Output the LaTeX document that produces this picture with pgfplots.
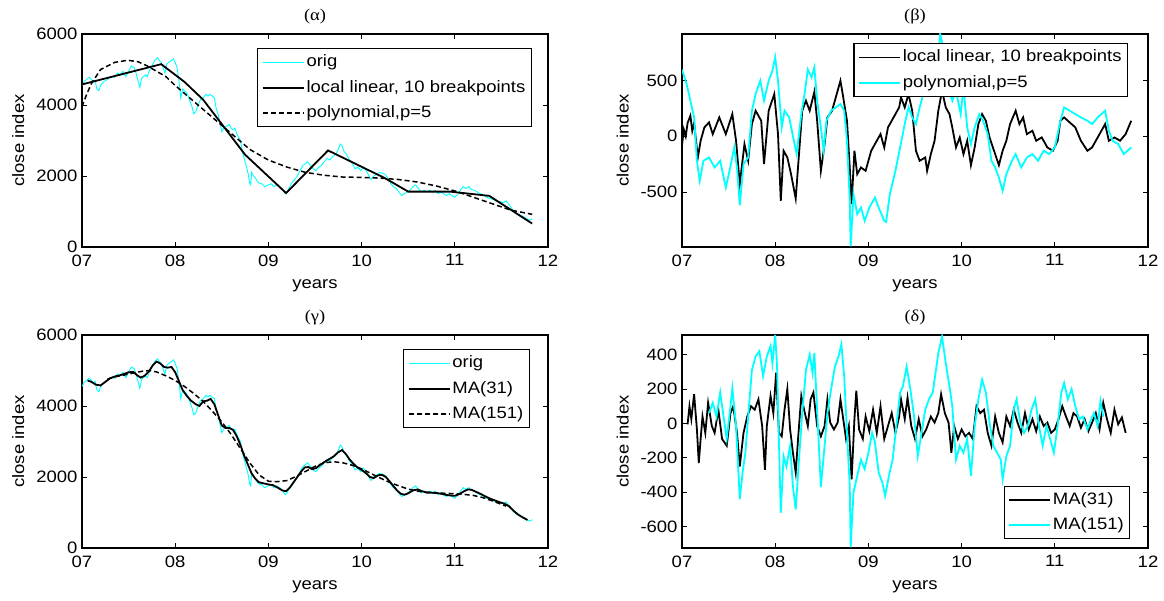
\documentclass[border=0pt]{standalone}
\usepackage{pgfplots}
\pgfplotsset{compat=1.18}
\usepackage{pgfplotstable}
\usepackage{fontspec}
\setmainfont[FakeStretch=1.12]{Liberation Sans}
\newfontfamily\titlefont[FakeStretch=1.12]{Liberation Serif}
\newcommand\f{\fontsize{16.5bp}{20bp}\selectfont}
\definecolor{mcyan}{RGB}{0,255,255}

\pgfplotstableread{
x y
7.00 4550
7.02 4650
7.04 4700
7.06 4750
7.08 4780
7.10 4720
7.12 4650
7.14 4700
7.16 4450
7.18 4400
7.20 4550
7.23 4650
7.26 4700
7.29 4750
7.32 4800
7.35 4780
7.38 4900
7.41 4850
7.44 4950
7.47 4800
7.50 4950
7.53 5100
7.56 5050
7.58 4900
7.60 4700
7.62 4500
7.64 4750
7.66 4800
7.68 4850
7.70 4800
7.72 4950
7.75 5100
7.78 5250
7.81 5330
7.83 5250
7.85 5200
7.87 5050
7.89 4900
7.91 5150
7.93 5200
7.96 5250
7.98 5300
8.00 5200
8.02 5050
8.04 4700
8.06 4200
8.08 4450
8.10 4400
8.12 4350
8.14 4250
8.16 4100
8.18 3950
8.20 3750
8.22 3800
8.24 3950
8.27 4150
8.30 4200
8.33 4300
8.35 4250
8.37 4300
8.40 4250
8.42 4200
8.44 3900
8.46 3750
8.48 3500
8.50 3250
8.52 3350
8.55 3400
8.58 3450
8.60 3350
8.62 3300
8.64 3350
8.66 3200
8.68 3100
8.70 3000
8.72 2700
8.74 2500
8.76 2300
8.78 2100
8.80 1800
8.81 1750
8.82 2100
8.84 2000
8.86 1950
8.88 1850
8.90 1800
8.93 1780
8.96 1700
9.00 1750
9.03 1780
9.06 1700
9.09 1750
9.12 1700
9.15 1620
9.18 1500
9.20 1550
9.22 1650
9.25 1800
9.28 1900
9.31 2000
9.34 2150
9.37 2300
9.40 2350
9.42 2400
9.45 2300
9.48 2200
9.51 2150
9.54 2250
9.57 2300
9.60 2400
9.63 2500
9.66 2450
9.69 2550
9.72 2600
9.75 2750
9.77 2900
9.79 2850
9.81 2700
9.84 2600
9.87 2450
9.90 2350
9.93 2200
9.96 2250
9.99 2150
10.02 2250
10.05 2150
10.08 2000
10.10 1900
10.13 2000
10.16 2050
10.19 2100
10.22 2080
10.25 2050
10.28 1950
10.31 1800
10.34 1700
10.37 1650
10.40 1550
10.43 1450
10.46 1500
10.49 1550
10.52 1600
10.55 1700
10.58 1750
10.61 1650
10.64 1550
10.67 1600
10.70 1550
10.73 1600
10.76 1550
10.79 1600
10.82 1500
10.85 1550
10.88 1500
10.91 1450
10.94 1500
10.97 1450
11.00 1400
11.03 1480
11.06 1600
11.09 1700
11.12 1650
11.15 1700
11.18 1620
11.21 1600
11.24 1550
11.27 1500
11.30 1480
11.33 1420
11.36 1380
11.40 1350
11.44 1300
11.48 1280
11.52 1250
11.55 1300
11.58 1200
11.62 1050
11.66 950
11.70 900
11.74 850
11.78 780
11.81 760
11.83 800
}\orig

\pgfplotstableread{
x y
7.00 4580
7.85 5150
8.10 4650
8.30 4150
8.75 2600
9.19 1520
9.64 2720
10.25 1940
10.50 1560
10.95 1560
11.37 1440
11.83 660
}\loclin

\pgfplotstableread{
x y
7.00 3950
7.05 4300
7.10 4600
7.20 5000
7.35 5200
7.49 5260
7.60 5220
7.70 5100
7.80 4950
7.90 4800
8.00 4550
8.20 4100
8.40 3650
8.60 3200
8.80 2750
9.00 2450
9.20 2250
9.40 2100
9.60 2020
9.80 1970
10.00 1960
10.20 1940
10.40 1900
10.60 1830
10.80 1720
11.00 1580
11.20 1400
11.40 1220
11.60 1040
11.83 920
}\poly

\pgfplotstableread{
x y
7.06 4720
7.10 4680
7.15 4600
7.20 4580
7.25 4680
7.30 4780
7.35 4830
7.40 4860
7.45 4900
7.50 4950
7.55 4960
7.60 4850
7.63 4800
7.67 4850
7.72 4980
7.76 5150
7.80 5250
7.84 5200
7.88 5100
7.92 5080
7.96 5100
8.00 4950
8.04 4700
8.08 4450
8.12 4300
8.17 4150
8.22 4050
8.26 4000
8.30 4130
8.34 4150
8.38 4200
8.42 4050
8.46 3750
8.50 3450
8.54 3380
8.58 3380
8.62 3330
8.66 3150
8.70 2900
8.74 2600
8.78 2350
8.82 2100
8.86 1950
8.90 1850
8.95 1820
9.00 1790
9.05 1770
9.10 1700
9.15 1620
9.19 1600
9.23 1700
9.27 1850
9.31 2000
9.35 2150
9.39 2270
9.43 2280
9.47 2220
9.51 2250
9.55 2330
9.60 2420
9.65 2500
9.70 2580
9.75 2700
9.79 2760
9.83 2650
9.87 2500
9.91 2380
9.95 2280
10.00 2200
10.05 2100
10.09 2000
10.13 1970
10.18 2050
10.22 2060
10.26 2000
10.30 1880
10.34 1750
10.38 1620
10.42 1530
10.46 1500
10.50 1540
10.55 1620
10.60 1650
10.65 1600
10.70 1560
10.75 1560
10.80 1550
10.85 1530
10.90 1500
10.95 1480
11.00 1470
11.05 1520
11.10 1600
11.14 1650
11.18 1640
11.23 1580
11.28 1520
11.33 1450
11.38 1390
11.43 1340
11.48 1290
11.53 1250
11.58 1180
11.63 1050
11.68 940
11.73 860
11.78 790
}\maa

\pgfplotstableread{
x y
7.27 4750
7.35 4820
7.45 4870
7.55 4930
7.65 4980
7.72 5000
7.80 4960
7.90 4850
8.00 4720
8.10 4550
8.20 4350
8.30 4130
8.40 3850
8.50 3550
8.60 3200
8.70 2800
8.80 2400
8.90 2060
9.00 1880
9.10 1870
9.20 1900
9.30 2020
9.40 2160
9.50 2300
9.60 2400
9.70 2430
9.80 2400
9.90 2330
10.00 2230
10.10 2100
10.20 1970
10.30 1850
10.40 1750
10.50 1660
10.60 1600
10.70 1570
10.80 1550
10.90 1540
11.00 1530
11.10 1510
11.20 1480
11.30 1420
11.40 1330
11.50 1230
11.55 1180
}\mab

\pgfplotstableread{
x y
7.00 -80
7.02 60
7.04 0
7.06 120
7.09 185
7.11 50
7.13 120
7.17 -190
7.20 -40
7.24 80
7.29 125
7.33 20
7.40 170
7.47 20
7.54 200
7.58 -40
7.62 -430
7.67 -70
7.71 -220
7.75 110
7.79 230
7.85 140
7.88 -250
7.93 230
7.99 380
8.03 20
8.06 -580
8.09 -130
8.13 -190
8.17 -340
8.22 -560
8.25 -220
8.29 230
8.33 320
8.37 230
8.42 400
8.45 140
8.49 -310
8.53 -70
8.56 170
8.61 230
8.66 380
8.70 500
8.73 350
8.77 140
8.80 -280
8.82 -610
8.85 -130
8.88 -340
8.92 -280
8.97 -310
9.03 -130
9.09 -40
9.13 20
9.17 -100
9.21 80
9.27 170
9.33 260
9.35 350
9.39 260
9.43 380
9.47 230
9.51 -130
9.55 -220
9.61 -190
9.63 -310
9.67 -160
9.71 -40
9.75 230
9.79 410
9.83 260
9.87 200
9.90 80
9.94 -100
9.98 -10
10.02 -160
10.06 -40
10.10 -260
10.14 -100
10.18 110
10.22 200
10.26 140
10.30 -10
10.36 -160
10.40 -260
10.44 -130
10.48 -40
10.52 110
10.58 230
10.62 110
10.66 170
10.70 20
10.76 50
10.80 -40
10.86 -10
10.92 -100
10.98 -130
11.03 -40
11.06 140
11.10 170
11.16 125
11.22 80
11.28 -40
11.35 -130
11.40 -100
11.46 -10
11.54 110
11.58 -40
11.64 -10
11.70 -40
11.76 20
11.82 140
}\resa

\pgfplotstableread{
x y
7.00 600
7.05 470
7.09 320
7.13 170
7.16 -220
7.19 -400
7.23 -220
7.29 -190
7.35 -280
7.41 -220
7.47 -460
7.51 -310
7.56 -100
7.59 -280
7.62 -620
7.66 -250
7.71 -190
7.75 230
7.79 380
7.84 500
7.88 320
7.93 500
7.97 590
8.00 710
8.03 500
8.07 80
8.10 230
8.15 170
8.20 -40
8.23 -160
8.28 200
8.32 410
8.35 600
8.39 530
8.42 620
8.45 320
8.49 80
8.52 -130
8.55 140
8.60 230
8.65 260
8.70 290
8.74 230
8.77 -40
8.80 -580
8.81 -990
8.84 -520
8.88 -700
8.92 -640
8.96 -760
9.01 -640
9.07 -550
9.11 -640
9.17 -760
9.19 -770
9.23 -520
9.29 -310
9.34 -100
9.39 110
9.43 260
9.47 170
9.51 110
9.55 260
9.59 380
9.65 470
9.70 380
9.74 620
9.77 920
9.81 770
9.85 470
9.90 320
9.94 410
9.99 200
10.02 440
10.06 80
10.10 -70
10.14 80
10.19 200
10.23 140
10.28 20
10.32 -220
10.36 -280
10.40 -370
10.44 -490
10.48 -340
10.54 -220
10.58 -160
10.64 -280
10.70 -190
10.76 -160
10.82 -220
10.88 -130
10.94 -160
11.00 -100
11.06 140
11.10 260
11.16 230
11.22 200
11.28 170
11.35 140
11.40 110
11.46 170
11.54 230
11.58 50
11.62 -40
11.68 -70
11.74 -160
11.78 -130
11.82 -100
}\resb

\pgfplotstableread{
x y
7.06 -5
7.08 100
7.10 25
7.13 170
7.16 -35
7.18 -230
7.20 -90
7.22 40
7.25 -55
7.28 120
7.32 -15
7.35 -55
7.39 80
7.43 -90
7.48 -130
7.52 60
7.55 100
7.59 -55
7.62 -250
7.66 -55
7.70 40
7.74 100
7.78 80
7.82 140
7.86 -15
7.89 -270
7.91 -15
7.95 160
7.98 60
8.01 295
8.04 -55
8.07 -75
8.10 80
8.13 200
8.16 -35
8.19 -170
8.22 -285
8.25 -55
8.28 160
8.31 80
8.35 -15
8.38 140
8.41 180
8.45 -15
8.49 -75
8.53 -15
8.56 140
8.59 5
8.63 -35
8.67 5
8.70 140
8.73 25
8.76 -90
8.79 -15
8.82 -325
8.85 25
8.87 190
8.90 -35
8.94 -90
8.97 40
9.01 -45
9.05 80
9.09 -55
9.13 100
9.17 -90
9.21 -15
9.25 60
9.29 -55
9.33 40
9.35 140
9.39 25
9.42 150
9.46 -15
9.50 -90
9.54 25
9.58 -75
9.62 -35
9.67 40
9.71 5
9.75 60
9.78 170
9.82 60
9.86 5
9.89 -170
9.92 -15
9.96 -90
10.00 -35
10.04 -75
10.08 -55
10.12 -90
10.16 100
10.20 60
10.24 80
10.28 -55
10.32 -130
10.36 40
10.40 -55
10.44 -110
10.48 40
10.52 -15
10.56 80
10.60 5
10.64 -55
10.68 60
10.72 -35
10.76 25
10.80 -45
10.84 40
10.88 -15
10.92 5
10.96 -55
11.00 -35
11.04 25
11.08 100
11.12 40
11.16 -15
11.20 60
11.24 40
11.28 -25
11.32 25
11.36 -45
11.40 5
11.44 60
11.48 -35
11.52 120
11.56 25
11.60 -55
11.64 80
11.68 -5
11.72 35
11.76 -55
}\resc

\pgfplotstableread{
x y
7.29 60
7.33 120
7.37 40
7.41 180
7.45 25
7.48 -90
7.52 100
7.54 205
7.58 -15
7.62 -440
7.65 -285
7.68 -170
7.71 40
7.75 310
7.79 390
7.83 420
7.87 275
7.91 390
7.95 450
7.97 350
8.00 515
8.02 330
8.04 -110
8.06 -520
8.09 -190
8.12 -250
8.16 -130
8.19 -365
8.22 -500
8.25 -250
8.29 60
8.33 310
8.37 400
8.40 295
8.42 410
8.45 80
8.49 -370
8.53 -130
8.56 60
8.60 200
8.64 330
8.68 390
8.71 460
8.74 275
8.77 -55
8.80 -365
8.81 -720
8.84 -400
8.88 -305
8.92 -210
8.96 -265
9.00 -170
9.04 -55
9.07 -110
9.11 -285
9.15 -345
9.18 -420
9.22 -305
9.26 -210
9.30 -15
9.34 180
9.37 215
9.41 330
9.45 200
9.49 40
9.53 -190
9.57 -55
9.61 80
9.65 140
9.69 180
9.73 330
9.75 410
9.79 505
9.83 350
9.87 215
9.90 100
9.94 -210
9.98 -130
10.02 -170
10.06 -90
10.10 -305
10.14 -15
10.18 140
10.22 255
10.26 180
10.30 5
10.34 -130
10.38 -170
10.42 -210
10.44 -325
10.48 -190
10.52 -130
10.56 80
10.59 140
10.63 5
10.67 -55
10.71 -15
10.75 80
10.79 140
10.83 -15
10.87 -130
10.91 -15
10.95 -90
10.99 -170
11.03 -15
11.07 180
11.10 235
11.14 140
11.18 200
11.22 100
11.26 25
11.30 40
11.35 -35
11.39 25
11.42 60
11.46 -15
11.49 130
11.52 40
}\resd

\pgfplotsset{
  lgd/.style={legend image code/.code={\draw[##1] (0bp,0bp) -- (41bp,0bp);}},
  myax/.style={
    scale only axis, width=466bp, height=213bp,
    xmin=7, xmax=12, xtick={7,8,9,10,11,12},
    xticklabels={07,08,09,10,11,12},
    tick align=inside, tick pos=both,
    major tick length=5bp,
    axis line style={line width=1.1bp},
    every tick/.style={black, line width=0.8bp},
    tick label style={font=\f},
    xticklabel style={yshift=-4bp},
    yticklabel style={xshift=-1bp},
    label style={font=\f},
    title style={font=\titlefont\f, at={(axis description cs:0.5,1.056)}, anchor=center},
    xlabel=years, ylabel=close index,
    xlabel style={at={(axis description cs:0.5,-0.181)}, anchor=center},
    legend cell align=left,
    legend style={font=\f, draw=black, line width=1.1bp, inner xsep=4bp, inner ysep=3.5bp,
      row sep=5.5bp, anchor=north west,
      nodes={inner sep=2bp, text height=12.5bp, text depth=3.5bp}},
  },
  thin cyan/.style={color=mcyan, line width=0.9bp, lgd},
  thick black/.style={color=black, line width=1.8bp, lgd},
  thick cyan/.style={color=mcyan, line width=1.8bp, lgd},
  dashed black/.style={color=black, line width=1.5bp, dash pattern=on 5bp off 3bp, lgd},
}

\begin{document}
\begin{tikzpicture}
\path[use as bounding box] (0,0) rectangle (1164bp,601bp);

% alpha
\begin{axis}[myax, at={(82bp,354bp)}, anchor=south west,
  ymin=0, ymax=6000, ytick={0,2000,4000,6000}, yticklabels={0,2000,4000,6000},
  title={(α)},
  ylabel style={at={(axis description cs:-0.137,0.5)}, anchor=center},
  legend style={at={(axis description cs:0.376,0.934)}}]
\addplot[thin cyan] table[x=x,y=y] {\orig};
\addplot[thick black] table[x=x,y=y] {\loclin};
\addplot[dashed black] table[x=x,y=y] {\poly};
\legend{orig, {local linear, 10 breakpoints}, {polynomial,p=5}}
\end{axis}

% beta
\begin{axis}[myax, at={(682bp,354bp)}, anchor=south west,
  ymin=-995, ymax=920, ytick={-500,0,500}, yticklabels={-500,0,500},
  title={(β)},
  ylabel style={at={(axis description cs:-0.127,0.5)}, anchor=center},
  legend style={at={(axis description cs:0.368,0.956)}}]
\addplot[thick black] table[x=x,y=y] {\resa};
\addplot[thick cyan] table[x=x,y=y] {\resb};
\legend{{local linear, 10 breakpoints}, {polynomial,p=5}}
\end{axis}

% gamma
\begin{axis}[myax, at={(82bp,53bp)}, anchor=south west,
  ymin=0, ymax=6000, ytick={0,2000,4000,6000}, yticklabels={0,2000,4000,6000},
  title={(γ)},
  ylabel style={at={(axis description cs:-0.137,0.5)}, anchor=center},
  legend style={at={(axis description cs:0.689,0.934)}}]
\addplot[thin cyan] table[x=x,y=y] {\orig};
\addplot[thick black] table[x=x,y=y] {\maa};
\addplot[dashed black] table[x=x,y=y] {\mab};
\legend{orig, MA(31), MA(151)}
\end{axis}

% delta
\begin{axis}[myax, at={(682bp,53bp)}, anchor=south west,
  ymin=-724, ymax=514, ytick={-600,-400,-200,0,200,400}, yticklabels={-600,-400,-200,0,200,400},
  title={(δ)},
  ylabel style={at={(axis description cs:-0.127,0.5)}, anchor=center},
  legend style={at={(axis description cs:0.690,0.293)}}]
\addplot[thick black] table[x=x,y=y] {\resc};
\addplot[thick cyan] table[x=x,y=y] {\resd};
\legend{MA(31), MA(151)}
\end{axis}
\end{tikzpicture}
\end{document}
